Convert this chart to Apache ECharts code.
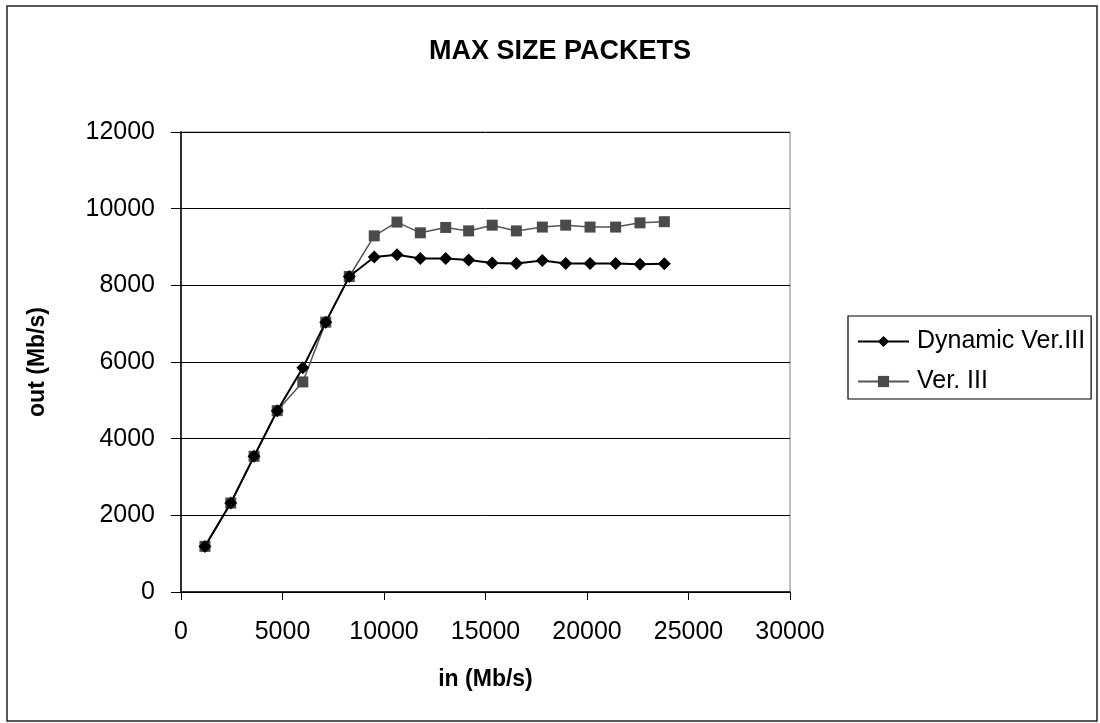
<!DOCTYPE html>
<html>
<head>
<meta charset="utf-8">
<title>MAX SIZE PACKETS</title>
<script src="https://cdn.jsdelivr.net/npm/echarts@6/dist/echarts.min.js"></script>
<style>
  html, body { margin: 0; padding: 0; background: #fff; }
  #chart { width: 1100px; height: 723px; }
</style>
</head>
<body>
<div id="chart"></div>
<script>
// input rate (Mb/s), shared by both series
var inRate = [1180, 2450, 3600, 4740, 6000, 7130, 8290, 9520, 10640, 11790,
              13040, 14170, 15330, 16520, 17800, 18950, 20150, 21410, 22610, 23810];
var dynamicOut = [1190, 2320, 3540, 4730, 5850, 7040, 8230, 8740, 8800, 8700,
                  8700, 8660, 8580, 8570, 8650, 8570, 8570, 8570, 8550, 8560];
var verOut = [1190, 2320, 3540, 4730, 5480, 7040, 8230, 9290, 9650, 9370,
              9510, 9420, 9570, 9420, 9520, 9570, 9520, 9520, 9630, 9660];
var seriesNames = ['Dynamic Ver.III', 'Ver. III'];

function pairs(xs, ys) {
  return xs.map(function (x, i) { return [x, ys[i]]; });
}

// plain numbers, no thousands separator
function plain(v) { return String(v); }

var font = '"Liberation Sans", Arial, sans-serif';
var chart = echarts.init(document.getElementById('chart'));

var option = {
  animation: false,
  backgroundColor: '#fff',
  textStyle: { fontFamily: font, color: '#000' },
  graphic: [{
    type: 'rect',
    shape: { x: 7, y: 6, width: 1090, height: 715 },
    style: { fill: 'none', stroke: '#222', lineWidth: 1.5 },
    silent: true
  }],
  title: {
    text: 'MAX SIZE PACKETS',
    left: 555,
    top: 33,
    textAlign: 'center',
    textStyle: { fontFamily: font, fontSize: 27, fontWeight: 'bold', color: '#000' }
  },
  legend: {
    orient: 'vertical',
    left: 848,
    top: 316,
    width: 249,
    padding: [13, 6, 5, 9],
    itemGap: 15,
    itemWidth: 51,
    itemHeight: 14,
    borderColor: '#000',
    borderWidth: 1.2,
    data: seriesNames,
    textStyle: { fontFamily: font, fontSize: 25, color: '#000', padding: [0, 0, 0, 3] }
  },
  grid: {
    left: 181,
    right: 310,
    top: 132,
    bottom: 131,
    show: true,
    borderColor: '#808080',
    borderWidth: 1
  },
  xAxis: {
    type: 'value',
    min: 0,
    max: 30000,
    interval: 5000,
    name: 'in (Mb/s)',
    nameLocation: 'middle',
    nameGap: 76,
    nameTextStyle: { fontFamily: font, fontSize: 23, fontWeight: 'bold', color: '#000' },
    axisLine: { lineStyle: { color: '#000', width: 1.5 } },
    axisTick: { show: true, length: 8, lineStyle: { color: '#000' } },
    axisLabel: { fontFamily: font, fontSize: 25, color: '#000', margin: 28, formatter: plain },
    splitLine: { show: false }
  },
  yAxis: {
    type: 'value',
    min: 0,
    max: 12000,
    interval: 2000,
    name: 'out (Mb/s)',
    nameLocation: 'middle',
    nameGap: 132,
    nameTextStyle: { fontFamily: font, fontSize: 23, fontWeight: 'bold', color: '#000' },
    axisLine: { show: true, lineStyle: { color: '#000', width: 1.5 } },
    axisTick: { show: true, length: 10, lineStyle: { color: '#000' } },
    axisLabel: { fontFamily: font, fontSize: 25, color: '#000', margin: 26, formatter: plain },
    splitLine: { show: true, lineStyle: { color: '#000', width: 1 } }
  },
  series: [
    {
      name: seriesNames[0],
      type: 'line',
      data: pairs(inRate, dynamicOut),
      symbol: 'diamond',
      symbolSize: 13,
      z: 3,
      itemStyle: { color: '#000' },
      lineStyle: { color: '#000', width: 2 }
    },
    {
      name: seriesNames[1],
      type: 'line',
      data: pairs(inRate, verOut),
      symbol: 'rect',
      symbolSize: 11,
      z: 2,
      itemStyle: { color: '#4a4a4a' },
      lineStyle: { color: '#555', width: 1.5 }
    }
  ]
};

chart.setOption(option);
</script>
</body>
</html>
